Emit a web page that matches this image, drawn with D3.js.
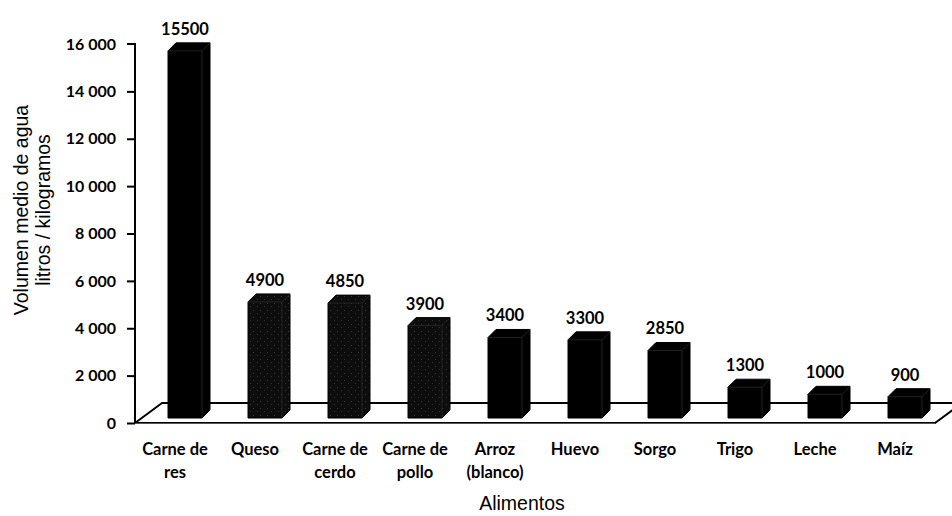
<!DOCTYPE html>
<html>
<head>
<meta charset="utf-8">
<script src="https://cdn.jsdelivr.net/npm/d3@7"></script>
<style>
  html, body { margin: 0; padding: 0; background: #fff; }
  svg { display: block; }
</style>
</head>
<body>
<svg id="chart" width="952" height="516"></svg>
<script>
// ---- data ----
const categories = ["Carne de res", "Queso", "Carne de cerdo", "Carne de pollo", "Arroz (blanco)", "Huevo", "Sorgo", "Trigo", "Leche", "Maíz"];
const categoryLines = [["Carne de", "res"], ["Queso"], ["Carne de", "cerdo"], ["Carne de", "pollo"], ["Arroz", "(blanco)"], ["Huevo"], ["Sorgo"], ["Trigo"], ["Leche"], ["Maíz"]];
const values = [15500, 4900, 4850, 3900, 3400, 3300, 2850, 1300, 1000, 900];
const yTicks = [0, 2000, 4000, 6000, 8000, 10000, 12000, 14000, 16000];
const yTitleLines = ["Volumen medio de agua", "litros / kilogramos"];
const xTitle = "Alimentos";

// ---- styles ----
const speckled = new Set(["Queso", "Carne de cerdo", "Carne de pollo"]);
const numFont = "Lato, 'Open Sans', sans-serif";
const titleFont = "'Liberation Sans', Arial, sans-serif";

const svg = d3.select("#chart");
const defs = svg.append("defs");
const pat = defs.append("pattern").attr("id", "speck").attr("patternUnits", "userSpaceOnUse")
  .attr("width", 7).attr("height", 7);
pat.append("rect").attr("width", 7).attr("height", 7).attr("fill", "#0d0d0d");
pat.append("rect").attr("x", 1).attr("y", 2).attr("width", 1).attr("height", 1).attr("fill", "#3a3a3a");
pat.append("rect").attr("x", 5).attr("y", 5).attr("width", 1).attr("height", 1).attr("fill", "#333");

const x = d3.scaleBand().domain(categories).range([135, 935]).paddingInner(0).paddingOuter(0);
const y = d3.scaleLinear().domain([0, 16000]).range([423, 44]);

const depthX = 27, depthY = -20;       // floor depth
const barOff = 33, barW = 34, barBaseShift = -5; // bar placement within band
const bdx = 8, bdy = -8;               // bar depth

// floor
const fl = [
  [x.range()[0], y(0)],
  [x.range()[0] + depthX, y(0) + depthY],
  [x.range()[1] + depthX, y(0) + depthY],
  [x.range()[1], y(0)]
];
svg.append("polygon").attr("points", fl.map(p => p.join(",")).join(" "))
  .attr("fill", "none").attr("stroke", "#000").attr("stroke-width", 2).attr("stroke-linejoin", "round");
svg.append("line").attr("x1", fl[0][0]).attr("x2", fl[3][0]).attr("y1", y(0) + 0.5).attr("y2", y(0) + 0.5)
  .attr("stroke", "#555").attr("stroke-width", 1);

// y axis
const fmt = d3.formatLocale({decimal: ".", thousands: " ", grouping: [3], currency: ["", ""]}).format(",");
const yAxis = d3.axisLeft(y).tickValues(yTicks).tickFormat(d => fmt(d)).tickSize(8).tickPadding(11);
const gy = svg.append("g").attr("transform", `translate(${x.range()[0]},0)`).call(yAxis);
gy.select(".domain").attr("stroke", "#000").attr("stroke-width", 2).attr("d", `M-8,${y(16000)}H0V${y(0)}`);
gy.selectAll(".tick line").attr("stroke", "#000").attr("stroke-width", 2);
gy.selectAll(".tick text").attr("font-family", numFont).attr("font-size", 16).attr("font-weight", 700).attr("fill", "#000");
gy.select(".tick:last-of-type line").remove();

// bars
svg.append("g").selectAll("path").data(categories).join("path")
  .attr("d", (c, i) => {
    const x0 = x(c) + barOff, x1 = x0 + barW;
    const yb = y(0) + barBaseShift, yt = y(values[i]) + barBaseShift;
    return `M${x0},${yb}L${x1},${yb}L${x1 + bdx},${yb + bdy}L${x1 + bdx},${yt + bdy}L${x0 + bdx},${yt + bdy}L${x0},${yt}Z`;
  })
  .attr("fill", c => speckled.has(c) ? "url(#speck)" : "#000")
  .attr("stroke", "#000").attr("stroke-width", 1);

// bar edges (subtle)
svg.append("g").selectAll("path").data(categories).join("path")
  .attr("d", (c, i) => {
    const x0 = x(c) + barOff, x1 = x0 + barW;
    const yb = y(0) + barBaseShift, yt = y(values[i]) + barBaseShift;
    return `M${x0},${yt}H${x1}V${yb}M${x1},${yt}L${x1 + bdx},${yt + bdy}`;
  })
  .attr("fill", "none").attr("stroke", "#2a2a2a").attr("stroke-width", 0.8);

// value labels
svg.append("g").selectAll("text").data(categories).join("text")
  .attr("x", c => x(c) + barOff + barW / 2)
  .attr("y", (c, i) => y(values[i]) + barBaseShift + bdy - 8)
  .attr("text-anchor", "middle")
  .attr("font-family", numFont).attr("font-size", 16.5).attr("font-weight", 700).attr("fill", "#000")
  .text((c, i) => values[i]);

// category labels
const cl = svg.append("g").selectAll("text").data(categories).join("text")
  .attr("x", c => x(c) + x.bandwidth() / 2)
  .attr("y", 455)
  .attr("text-anchor", "middle")
  .attr("font-family", numFont).attr("font-size", 16.5).attr("font-weight", 700).attr("fill", "#000");
cl.each(function(c, i) {
  const t = d3.select(this);
  categoryLines[i].forEach((ln, k) => {
    t.append("tspan").attr("x", x(c) + x.bandwidth() / 2).attr("dy", k === 0 ? 0 : 23).text(ln);
  });
});

// axis titles
const yt = svg.append("text").attr("transform", "translate(0,210) rotate(-90)")
  .attr("text-anchor", "middle").attr("font-family", titleFont).attr("font-size", 19.5).attr("fill", "#000");
yTitleLines.forEach((ln, k) => {
  yt.append("tspan").attr("x", 0).attr("y", k === 0 ? 28 : 50).text(ln);
});
svg.append("text").attr("x", 522).attr("y", 510).attr("text-anchor", "middle")
  .attr("font-family", titleFont).attr("font-size", 19.5).attr("fill", "#000").text(xTitle);
</script>
</body>
</html>
